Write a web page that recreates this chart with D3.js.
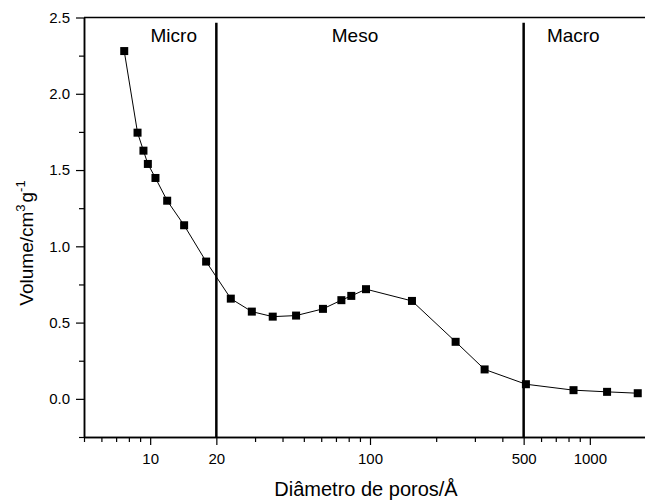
<!DOCTYPE html>
<html>
<head>
<meta charset="utf-8">
<script src="https://cdn.jsdelivr.net/npm/d3@7"></script>
<style>
	body { margin: 0; background: #fff; }
	text { font-family: Arial, "Liberation Sans", sans-serif; fill: #000; }
</style>
</head>
<body>
<svg id="chart" width="645" height="503"></svg>
<script>
// pore diameter (Å) and volume (cm3/g)
const diameters = [7.62, 8.76, 9.32, 9.76, 10.57, 11.95, 14.27, 17.97, 23.27, 29.0, 36.1, 46.1,
	61.1, 74.1, 82.2, 95.9, 155.2, 245.2, 332.2, 512, 843, 1198, 1652];
const volumes = [2.28, 1.745, 1.627, 1.54, 1.448, 1.299, 1.138, 0.900, 0.657, 0.572, 0.539, 0.546,
	0.590, 0.647, 0.675, 0.719, 0.642, 0.374, 0.193, 0.096, 0.057, 0.046, 0.037];

// region boundaries and names
const boundaries = [20, 500];
const regionNames = ["Micro", "Meso", "Macro"];
const regionCenters = [12.8, 85.5, 841];

const xMajorTicks = [10, 20, 100, 500, 1000];
const xMinorTicks = [5, 6, 7, 8, 9, 30, 40, 50, 60, 70, 80, 90, 200, 300, 400, 600, 700, 800, 900, 2000];
const yMajorTicks = [0, 0.5, 1.0, 1.5, 2.0, 2.5];
const yMinorTicks = [-0.25, 0.25, 0.75, 1.25, 1.75, 2.25];

let svg = d3.select("#chart");
let plotLeft = 84, plotRight = 656, plotTop = 17.5, plotBottom = 437;

let x = d3.scaleLog().domain([5, 2000]).range([plotLeft, plotRight]);
let y = d3.scaleLinear().domain([-0.25, 2.5]).range([plotBottom, plotTop]);

/** style one axis: line widths and label size */
function styleAxis(g, labels) {
	g.select(".domain").attr("stroke-width", 1.5);
	g.selectAll(".tick line").attr("stroke-width", 1.2);
	if (labels) g.selectAll(".tick text").attr("font-size", 15);
}

// x axis, major then minor ticks
svg.append("g")
	.attr("transform", "translate(0," + plotBottom + ")")
	.call(d3.axisBottom(x).tickValues(xMajorTicks).tickSize(8).tickPadding(8)
		.tickFormat(d3.format("d")).tickSizeOuter(0))
	.call(g => styleAxis(g, true));
svg.append("g")
	.attr("transform", "translate(0," + plotBottom + ")")
	.call(d3.axisBottom(x).tickValues(xMinorTicks).tickSize(5).tickFormat("").tickSizeOuter(0))
	.call(g => styleAxis(g, false));

// y axis
svg.append("g")
	.attr("transform", "translate(" + plotLeft + ",0)")
	.call(d3.axisLeft(y).tickValues(yMajorTicks).tickSize(8).tickPadding(6)
		.tickFormat(d3.format(".1f")).tickSizeOuter(0))
	.call(g => styleAxis(g, true));
svg.append("g")
	.attr("transform", "translate(" + plotLeft + ",0)")
	.call(d3.axisLeft(y).tickValues(yMinorTicks).tickSize(5).tickFormat("").tickSizeOuter(0))
	.call(g => styleAxis(g, false));

// top frame line
svg.append("line")
	.attr("x1", x.range()[0]).attr("x2", x.range()[1])
	.attr("y1", y(2.5)).attr("y2", y(2.5))
	.attr("stroke", "black").attr("stroke-width", 1.5);

// region boundary lines
svg.append("g").selectAll("line")
	.data(boundaries)
	.enter().append("line")
	.attr("x1", d => x(d)).attr("x2", d => x(d))
	.attr("y1", y(2.465)).attr("y2", y(-0.25))
	.attr("stroke", "black").attr("stroke-width", 2.5);

svg.append("g").selectAll("text")
	.data(regionNames)
	.enter().append("text")
	.attr("x", (d, i) => x(regionCenters[i]))
	.attr("y", 42)
	.attr("text-anchor", "middle")
	.attr("font-size", 19)
	.text(d => d);

// data line and square markers
let points = diameters.map((d, i) => [d, volumes[i]]);
svg.append("path")
	.datum(points)
	.attr("fill", "none")
	.attr("stroke", "black")
	.attr("stroke-width", 1)
	.attr("d", d3.line().x(d => x(d[0])).y(d => y(d[1])));

let m = 8;
svg.append("g").selectAll("rect")
	.data(points)
	.enter().append("rect")
	.attr("x", d => x(d[0]) - m / 2)
	.attr("y", d => y(d[1]) - m / 2)
	.attr("width", m).attr("height", m)
	.attr("fill", "black");

// axis titles
svg.append("text")
	.attr("x", 366).attr("y", 496)
	.attr("text-anchor", "middle")
	.attr("font-size", 20)
	.text("Diâmetro de poros/Å");

let yt = svg.append("text")
	.attr("transform", "translate(33,243) rotate(-90)")
	.attr("text-anchor", "middle")
	.attr("font-size", 19);
yt.append("tspan").text("Volume/cm");
yt.append("tspan").attr("font-size", 13).attr("dy", -8).text("3");
yt.append("tspan").attr("dy", 8).attr("dx", 2).text("g");
yt.append("tspan").attr("font-size", 13).attr("dy", -8).text("-1");
</script>
</body>
</html>
